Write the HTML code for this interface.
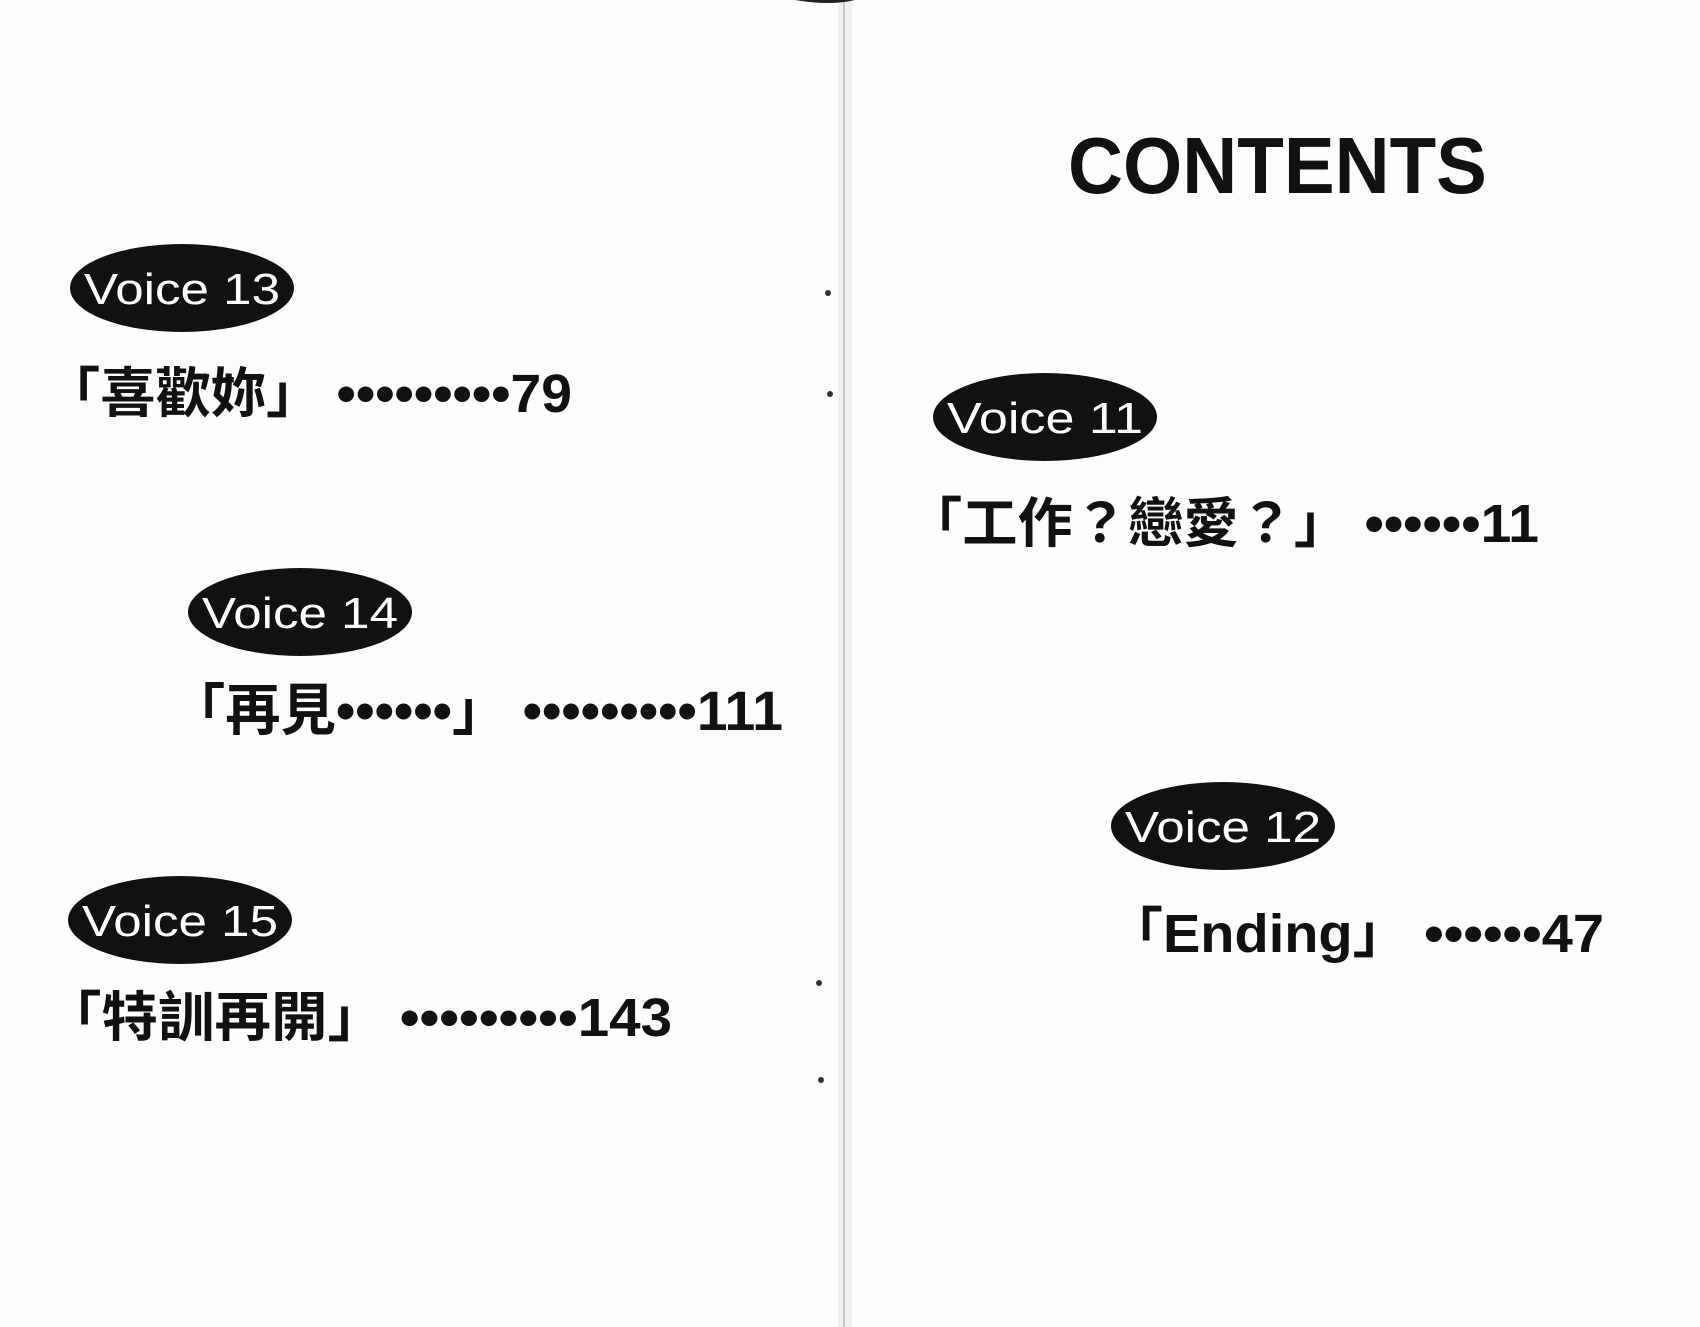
<!DOCTYPE html>
<html><head><meta charset="utf-8"><style>
html,body{margin:0;padding:0;background:#fdfdfd;}
svg{display:block}
text{font-family:"Liberation Sans","Noto Sans CJK TC",sans-serif;font-weight:bold}
text.v{font-weight:normal}
</style></head><body>
<svg width="1700" height="1327" viewBox="0 0 1700 1327" xmlns="http://www.w3.org/2000/svg">
<rect width="1700" height="1327" fill="#fdfdfd"/>
<rect x="838" y="0" width="14" height="1327" fill="#f0f0f0"/>
<rect x="843" y="0" width="2" height="1327" fill="#c8c8c8"/>
<path d="M795 0 Q830 6 855 0 Z" fill="#222"/>
<circle cx="828" cy="293" r="3" fill="#333"/><circle cx="830" cy="394" r="3" fill="#333"/>
<circle cx="819" cy="983" r="3" fill="#333"/><circle cx="821" cy="1080" r="3" fill="#333"/>

<text x="1068" y="193" font-size="80" textLength="419" lengthAdjust="spacingAndGlyphs" fill="#111">CONTENTS</text>

<ellipse cx="182" cy="288" rx="112" ry="44" fill="#111"/>
<text class="v" x="182" y="304" font-size="44" fill="#fff" text-anchor="middle" textLength="196" lengthAdjust="spacingAndGlyphs">Voice 13</text>
<text x="45" y="412" font-size="54" textLength="527" lengthAdjust="spacingAndGlyphs" fill="#111">「喜歡妳」 •••••••••79</text>

<ellipse cx="300" cy="612" rx="112" ry="44" fill="#111"/>
<text class="v" x="300" y="628" font-size="44" fill="#fff" text-anchor="middle" textLength="196" lengthAdjust="spacingAndGlyphs">Voice  14</text>
<text x="170" y="730" font-size="56" textLength="613" lengthAdjust="spacingAndGlyphs" fill="#111">「再見••••••」 •••••••••111</text>

<ellipse cx="180" cy="920" rx="112" ry="44" fill="#111"/>
<text class="v" x="180" y="936" font-size="44" fill="#fff" text-anchor="middle" textLength="196" lengthAdjust="spacingAndGlyphs">Voice  15</text>
<text x="45" y="1036" font-size="54" textLength="627" lengthAdjust="spacingAndGlyphs" fill="#111">「特訓再開」 •••••••••143</text>

<ellipse cx="1045" cy="417" rx="112" ry="44" fill="#111"/>
<text class="v" x="1045" y="433" font-size="44" fill="#fff" text-anchor="middle" textLength="196" lengthAdjust="spacingAndGlyphs">Voice 11</text>
<text x="907" y="542" font-size="54" textLength="632" lengthAdjust="spacingAndGlyphs" fill="#111">「工作？戀愛？」 ••••••11</text>

<ellipse cx="1223" cy="826" rx="112" ry="44" fill="#111"/>
<text class="v" x="1223" y="842" font-size="44" fill="#fff" text-anchor="middle" textLength="196" lengthAdjust="spacingAndGlyphs">Voice 12</text>
<text x="1107" y="952" font-size="54" textLength="497" lengthAdjust="spacingAndGlyphs" fill="#111">「Ending」 ••••••47</text>
</svg>
</body></html>
